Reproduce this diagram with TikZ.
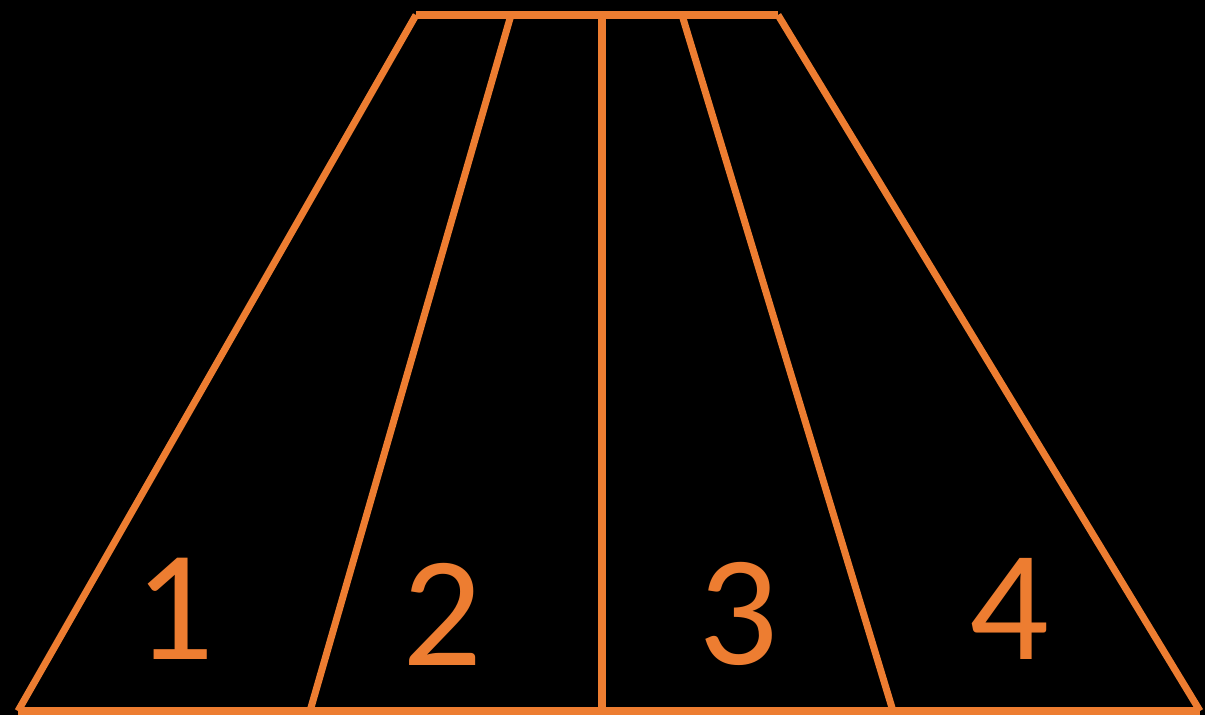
\documentclass[tikz,border=0pt]{standalone}
\usepackage{fontspec}
\setmainfont{Carlito}
\usetikzlibrary{positioning}
\definecolor{Orange}{HTML}{ED7D31}

\begin{document}
\begin{tikzpicture}[x=0.025cm,y=-0.025cm,
        edge/.style={Orange,line width=5pt},
        num/.style={Orange,inner sep=0pt,font=\fontsize{112}{112}\selectfont}
      ]
        \fill[black] (0,0) rectangle (1205,715);
        \useasboundingbox (0,0) rectangle (1205,715);
        \coordinate (tl) at (416,15); \coordinate (tr) at (778,15);
        \coordinate (bl) at (18,711); \coordinate (br) at (1200,711);
        \coordinate (ta) at (511,15); \coordinate (ba) at (310,711);
        \coordinate (tm) at (602,15); \coordinate (bm) at (602,711);
        \coordinate (tb) at (682,15); \coordinate (bb) at (893,711);
        \draw[edge] (tl)--(tr); \draw[edge] (bl)--(br);
        \draw[edge] (tl)--(bl); \draw[edge] (tr)--(br);
        \draw[edge] (ta)--(ba); \draw[edge] (tm)--(bm); \draw[edge] (tb)--(bb);
        \node[num] (one) at (174,609) {1};
        \node[num] (two) at (442,614) {2};
        \node[num] (three) at (738,614) {3};
        \node[num] (four) at (1009,609) {4};
      \end{tikzpicture}
\end{document}
